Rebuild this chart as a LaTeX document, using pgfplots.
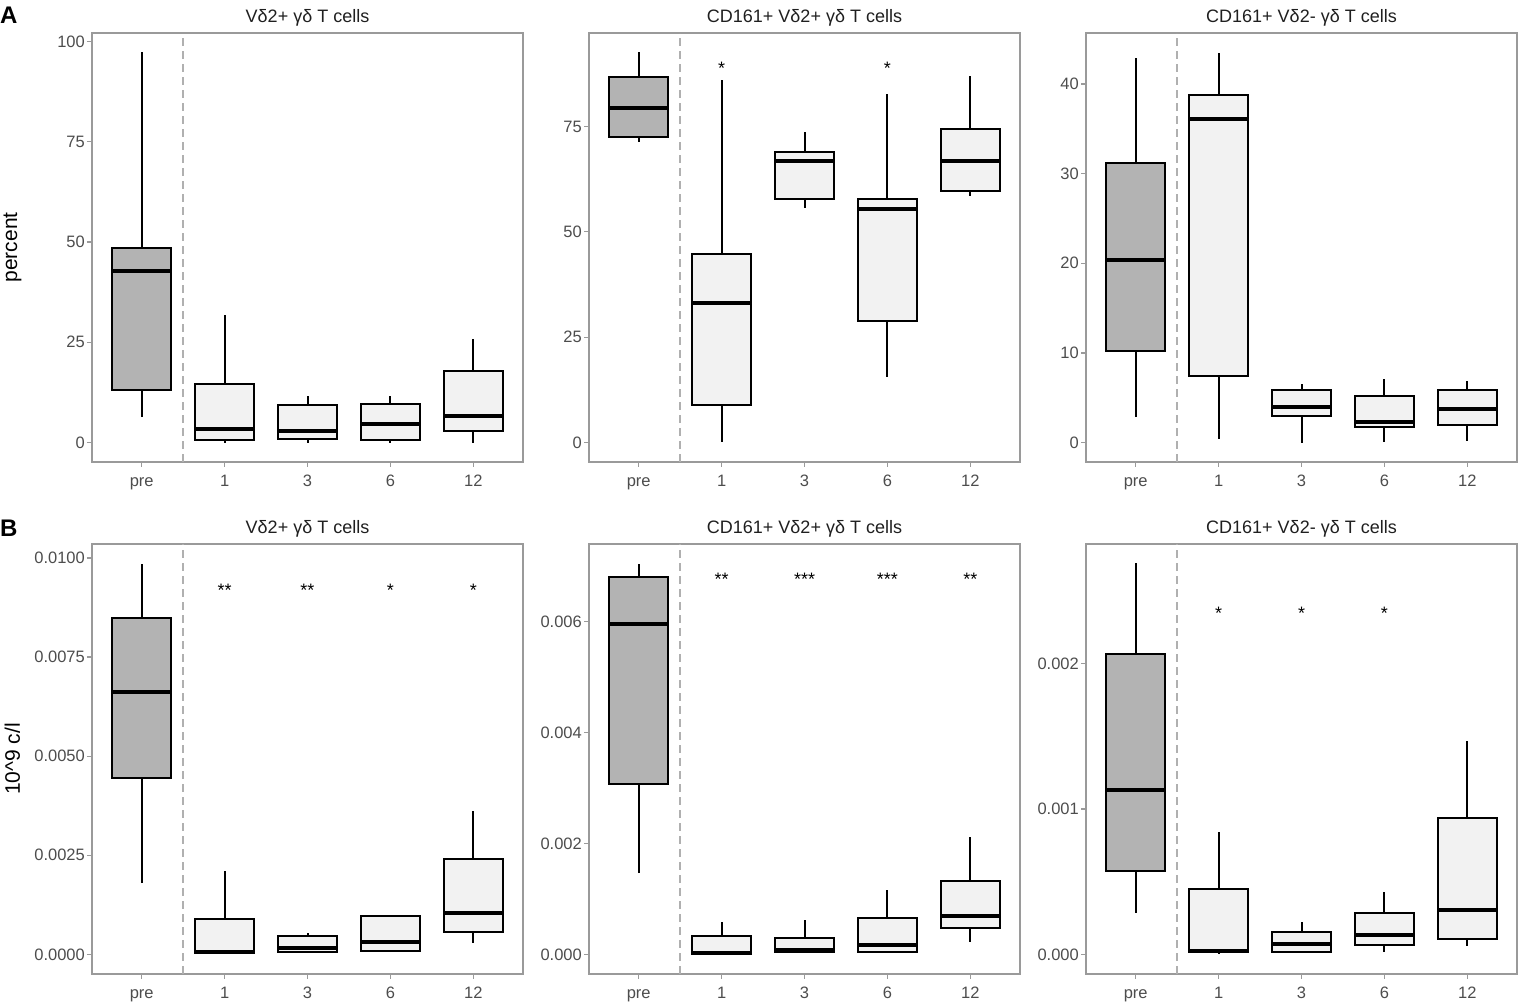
\documentclass[border=0pt]{standalone}
\usepackage{fontspec}
\setmainfont{Liberation Sans}
\usepackage{pgfplots}
\pgfplotsset{compat=1.18}
\usepgfplotslibrary{statistics}

\definecolor{pregray}{HTML}{B3B3B3}
\definecolor{postgray}{HTML}{F2F2F2}
\definecolor{framegray}{HTML}{9A9A9A}
\definecolor{ticktext}{HTML}{4D4D4D}
\definecolor{dashgray}{HTML}{B0B0B0}

\pgfplotsset{
  panel/.style={
    scale only axis, width=431pt, anchor=south west,
    xmin=0.4, xmax=5.6, xtick={1,2,3,4,5}, xticklabels={pre,1,3,6,12},
    axis line style={framegray, line width=1.3pt},
    tick style={framegray, line width=1.3pt},
    tick align=outside, tick pos=left, major tick length=5pt,
    ticklabel style={font=\fontsize{16.5}{19}\selectfont, text=ticktext},
    yticklabel style={inner sep=2pt},
    xticklabel style={text height=12pt, text depth=3.5pt, yshift=-3.5pt},
    /pgf/number format/assume math mode=true,
    scaled y ticks=false,
    title style={font=\fontsize{18}{21}\selectfont, anchor=base, yshift=4.5pt, text=black!88},
    ylabel style={font=\fontsize{21}{24}\selectfont, at={(rel axis cs:-0.1845,0.5)}, anchor=center, text=black},
    boxplot/draw direction=y,
    boxplot/every box/.style={draw=black, line width=2pt},
    boxplot/every whisker/.style={draw=black, line width=2pt},
    boxplot/every median/.style={draw=black, line width=4pt},
  },
  stars/.style={draw=none, mark=none, nodes near coords, point meta=explicit symbolic,
    nodes near coords style={anchor=base, yshift=-10.3pt, inner sep=0pt, font=\fontsize{18}{20}\selectfont, text=black}},
  sep/.style={dashgray, line width=2pt, dash pattern=on 8pt off 5pt},
}

% draw position, lower whisker, lower quartile, median, upper quartile, upper whisker, fill
\newcommand{\bx}[7]{\addplot[fill=#7, draw=black, line width=2pt,
  boxplot prepared={draw position=#1, lower whisker=#2, lower quartile=#3,
  median=#4, upper quartile=#5, upper whisker=#6, box extend=0.71, whisker extend=0}]
  coordinates {};}

\begin{document}
\begin{tikzpicture}
\useasboundingbox (0pt,0pt) rectangle (1518pt,1003pt);

\node[anchor=base west, inner sep=0pt, font=\fontsize{24}{28}\selectfont\bfseries] at (0pt,979pt) {A};
\node[anchor=base west, inner sep=0pt, font=\fontsize{24}{28}\selectfont\bfseries] at (0pt,466pt) {B};

% ---------- Row A (percent) ----------
\begin{axis}[panel, at={(92pt,541pt)}, height=429pt,
  ymin=-4.85, ymax=102.1, ytick={0,25,50,75,100},
  title={Vδ2+ γδ T cells}, ylabel={percent}]
  \addplot[sep] coordinates {(1.5,-4.85) (1.5,102.1)};
  \bx{1}{6.3}{13.0}{42.7}{48.4}{97.3}{pregray}
  \bx{2}{0}{0.7}{3.4}{14.7}{31.8}{postgray}
  \bx{3}{0}{0.9}{2.8}{9.4}{11.5}{postgray}
  \bx{4}{0}{0.7}{4.7}{9.7}{11.5}{postgray}
  \bx{5}{0}{2.8}{6.7}{17.9}{25.9}{postgray}
\end{axis}

\begin{axis}[panel, at={(589pt,541pt)}, height=429pt,
  ymin=-4.63, ymax=97.2, ytick={0,25,50,75},
  title={CD161+ Vδ2+ γδ T cells}]
  \addplot[sep] coordinates {(1.5,-4.63) (1.5,97.2)};
  \bx{1}{71.3}{72.4}{79.4}{86.7}{92.6}{pregray}
  \bx{2}{0}{8.8}{33.1}{44.8}{86.1}{postgray}
  \bx{3}{55.7}{57.7}{66.7}{69.0}{73.7}{postgray}
  \bx{4}{15.5}{28.9}{55.4}{57.7}{82.7}{postgray}
  \bx{5}{58.4}{59.8}{66.7}{74.3}{86.9}{postgray}
  \addplot[stars] coordinates {(2,89.7)[*] (4,89.7)[*]};
\end{axis}

\begin{axis}[panel, at={(1086pt,541pt)}, height=429pt,
  ymin=-2.17, ymax=45.7, ytick={0,10,20,30,40},
  title={CD161+ Vδ2- γδ T cells}]
  \addplot[sep] coordinates {(1.5,-2.17) (1.5,45.7)};
  \bx{1}{2.8}{10.2}{20.4}{31.2}{42.9}{pregray}
  \bx{2}{0.4}{7.4}{36.1}{38.8}{43.5}{postgray}
  \bx{3}{0}{3.0}{4.0}{5.9}{6.5}{postgray}
  \bx{4}{0.1}{1.7}{2.3}{5.2}{7.1}{postgray}
  \bx{5}{0.15}{2.0}{3.7}{5.9}{6.9}{postgray}
\end{axis}

% ---------- Row B (10^9 c/l) ----------
\begin{axis}[panel, at={(92pt,29pt)}, height=430pt,
  ymin=-0.000493, ymax=0.01035, ytick={0,0.0025,0.005,0.0075,0.01},
  yticklabel style={/pgf/number format/.cd, fixed, fixed zerofill, precision=4},
  title={Vδ2+ γδ T cells}, ylabel={10\textasciicircum 9 c/l}]
  \addplot[sep] coordinates {(1.5,-0.000493) (1.5,0.01035)};
  \bx{1}{0.00179}{0.00445}{0.00661}{0.00848}{0.00985}{pregray}
  \bx{2}{0}{0.00003}{0.00005}{0.00089}{0.00211}{postgray}
  \bx{3}{0.00003}{0.00007}{0.00016}{0.00047}{0.00055}{postgray}
  \bx{4}{0.00005}{0.00008}{0.00032}{0.00096}{0.00096}{postgray}
  \bx{5}{0.00028}{0.00057}{0.00105}{0.0024}{0.00362}{postgray}
  \addplot[stars] coordinates {(2,0.00928)[**] (3,0.00928)[**] (4,0.00928)[*] (5,0.00928)[*]};
\end{axis}

\begin{axis}[panel, at={(589pt,29pt)}, height=430pt,
  ymin=-0.000352, ymax=0.0074, ytick={0,0.002,0.004,0.006},
  yticklabel style={/pgf/number format/.cd, fixed, fixed zerofill, precision=3},
  title={CD161+ Vδ2+ γδ T cells}]
  \addplot[sep] coordinates {(1.5,-0.000352) (1.5,0.0074)};
  \bx{1}{0.00146}{0.00308}{0.00596}{0.0068}{0.00704}{pregray}
  \bx{2}{0}{0.00001}{0.00003}{0.00034}{0.00058}{postgray}
  \bx{3}{0.00003}{0.00004}{0.00008}{0.0003}{0.00062}{postgray}
  \bx{4}{0.00002}{0.00004}{0.00017}{0.00066}{0.00116}{postgray}
  \bx{5}{0.00022}{0.00047}{0.0007}{0.00133}{0.00212}{postgray}
  \addplot[stars] coordinates {(2,0.00683)[**] (3,0.00683)[***] (4,0.00683)[***] (5,0.00683)[**]};
\end{axis}

\begin{axis}[panel, at={(1086pt,29pt)}, height=430pt,
  ymin=-0.000134, ymax=0.00282, ytick={0,0.001,0.002},
  yticklabel style={/pgf/number format/.cd, fixed, fixed zerofill, precision=3},
  title={CD161+ Vδ2- γδ T cells}]
  \addplot[sep] coordinates {(1.5,-0.000134) (1.5,0.00282)};
  \bx{1}{0.000288}{0.000574}{0.00113}{0.002066}{0.002687}{pregray}
  \bx{2}{0}{0.000014}{0.000027}{0.000449}{0.00084}{postgray}
  \bx{3}{0.000014}{0.000014}{0.000073}{0.000156}{0.00022}{postgray}
  \bx{4}{0.00002}{0.000064}{0.000137}{0.000284}{0.000426}{postgray}
  \bx{5}{0.00006}{0.000105}{0.000304}{0.000936}{0.001467}{postgray}
  \addplot[stars] coordinates {(2,0.00237)[*] (3,0.00237)[*] (4,0.00237)[*]};
\end{axis}
\end{tikzpicture}
\end{document}
